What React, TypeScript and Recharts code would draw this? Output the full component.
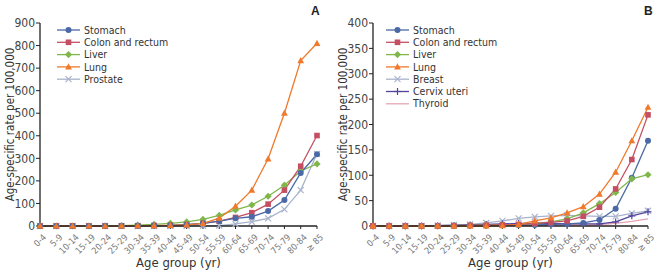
import React from 'react';
import { LineChart, Line, XAxis, YAxis } from 'recharts';

const FONT = "'DejaVu Sans', sans-serif";
const TXT = { fontFamily: FONT, fontStretch: 'condensed' } as const;

const ages = ['0-4', '5-9', '10-14', '15-19', '20-24', '25-29', '30-34', '35-39', '40-44', '45-49',
  '50-54', '55-59', '60-64', '65-69', '70-74', '75-79', '80-84', '≥ 85'];

// panel A
const stomachA = [0, 0, 0, 0, 0, 0.5, 1, 2, 3, 6, 12, 22, 34, 41, 66, 115, 235, 318];
const colonA = [0, 0, 0, 0, 0, 0.5, 1, 2, 3, 6, 12, 22, 38, 59, 97, 159, 265, 401];
const liverA = [0, 0, 0, 0, 0.5, 2, 4, 7, 12, 18, 29, 47, 71, 93, 132, 181, 244, 275];
const lungA = [0, 0, 0, 0, 0, 0.5, 1, 2, 3, 5, 12, 35, 88, 159, 298, 500, 733, 810];
const prostateA = [0, 0, 0, 0, 0, 0, 0, 0, 0, 0, 1, 2, 9, 19, 34, 74, 159, 320];
const ticksA = [0, 100, 200, 300, 400, 500, 600, 700, 800, 900];

// panel B
const stomachB = [0, 0, 0, 0, 0, 0.5, 1, 1, 1.5, 2, 2, 3, 4, 6, 12, 34, 95, 168];
const colonB = [0, 0, 0, 0, 0, 0.5, 1, 1.5, 2, 3, 5, 7, 10, 19, 37, 73, 131, 219];
const liverB = [0, 0, 0, 0, 0, 0.5, 1, 1.5, 2, 3, 5, 8, 14, 26, 44, 66, 93, 101];
const lungB = [0, 0, 0, 0, 0, 0, 0, 0, 0.5, 3, 10, 16, 26, 38, 63, 106, 168, 234];
const breastB = [0, 0, 0, 0, 1, 2, 3, 6, 10, 15, 18, 20, 21, 20, 19, 19, 25, 30];
const cervixB = [0, 0, 0, 0, 0.5, 1, 2, 3, 4, 5, 5, 5, 4, 4, 4, 8, 20, 28];
const thyroidB = [0, 0, 0, 0, 0, 0.5, 0.5, 1, 1, 1, 1.5, 1.5, 2, 2, 3, 5, 9, 14];
const ticksB = [0, 50, 100, 150, 200, 250, 300, 350, 400];

type Shape = 'circle' | 'square' | 'diamond' | 'triangle' | 'x' | 'plus' | 'none';
type Series = { key: string; name: string; color: string; shape: Shape };

const seriesA: Series[] = [
  { key: 'prostate', name: 'Prostate', color: '#a9b3cc', shape: 'x' },
  { key: 'liver', name: 'Liver', color: '#7fb74b', shape: 'diamond' },
  { key: 'colon', name: 'Colon and rectum', color: '#c44f62', shape: 'square' },
  { key: 'stomach', name: 'Stomach', color: '#4a69a6', shape: 'circle' },
  { key: 'lung', name: 'Lung', color: '#f0792b', shape: 'triangle' },
];
const legendA = ['stomach', 'colon', 'liver', 'lung', 'prostate'];

const seriesB: Series[] = [
  { key: 'thyroid', name: 'Thyroid', color: '#e7a3b3', shape: 'none' },
  { key: 'breast', name: 'Breast', color: '#a9b3cc', shape: 'x' },
  { key: 'cervix', name: 'Cervix uteri', color: '#51449c', shape: 'plus' },
  { key: 'stomach', name: 'Stomach', color: '#4a69a6', shape: 'circle' },
  { key: 'liver', name: 'Liver', color: '#7fb74b', shape: 'diamond' },
  { key: 'colon', name: 'Colon and rectum', color: '#c44f62', shape: 'square' },
  { key: 'lung', name: 'Lung', color: '#f0792b', shape: 'triangle' },
];
const legendB = ['stomach', 'colon', 'liver', 'lung', 'breast', 'cervix', 'thyroid'];

const dataA = ages.map((age, i) => ({
  age, stomach: stomachA[i], colon: colonA[i], liver: liverA[i], lung: lungA[i], prostate: prostateA[i],
}));
const dataB = ages.map((age, i) => ({
  age, stomach: stomachB[i], colon: colonB[i], liver: liverB[i], lung: lungB[i],
  breast: breastB[i], cervix: cervixB[i], thyroid: thyroidB[i],
}));

function Mark({ shape, x, y, color }: { shape: Shape; x: number; y: number; color: string }) {
  switch (shape) {
    case 'circle':
      return <circle cx={x} cy={y} r={3} fill={color} />;
    case 'square':
      return <rect x={x - 2.8} y={y - 2.8} width={5.6} height={5.6} fill={color} />;
    case 'diamond':
      return <polygon points={`${x},${y - 3.6} ${x + 3.6},${y} ${x},${y + 3.6} ${x - 3.6},${y}`} fill={color} />;
    case 'triangle':
      return <polygon points={`${x},${y - 3.6} ${x + 3.4},${y + 2.6} ${x - 3.4},${y + 2.6}`} fill={color} />;
    case 'x':
      return (
        <g stroke={color} strokeWidth={1.2}>
          <line x1={x - 3} y1={y - 3} x2={x + 3} y2={y + 3} />
          <line x1={x - 3} y1={y + 3} x2={x + 3} y2={y - 3} />
        </g>
      );
    case 'plus':
      return (
        <g stroke={color} strokeWidth={1.2}>
          <line x1={x - 3.5} y1={y} x2={x + 3.5} y2={y} />
          <line x1={x} y1={y - 3.5} x2={x} y2={y + 3.5} />
        </g>
      );
    default:
      return null;
  }
}

function AgeTick({ x, y, payload }: any) {
  return (
    <g transform={`translate(${x + 4},${y + 4})`}>
      <text transform="rotate(-45)" textAnchor="end" dy={4} fontSize={9} fill="#777" style={TXT}>
        {payload.value}
      </text>
    </g>
  );
}

function LegendBox({ series, order, left }: { series: Series[]; order: string[]; left: number }) {
  const items = order.map((k) => series.find((s) => s.key === k)!);
  return (
    <svg width={160} height={items.length * 12.3 + 8} style={{ position: 'absolute', left, top: 23 }}>
      {items.map((s, i) => {
        const y = 7 + i * 12.3;
        return (
          <g key={s.key}>
            <line x1={1} x2={24} y1={y} y2={y} stroke={s.color} strokeWidth={1.3} />
            <Mark shape={s.shape} x={12.5} y={y} color={s.color} />
            <text x={28} y={y} dy="0.35em" fontSize={10.5} fill="#333" style={TXT}>{s.name}</text>
          </g>
        );
      })}
    </svg>
  );
}

function Panel({ data, series, order, ticks, max, letter, right, legendLeft }: {
  data: any[]; series: Series[]; order: string[]; ticks: number[]; max: number; letter: string;
  right: number; legendLeft: number;
}) {
  return (
    <div style={{ position: 'relative', width: 333, height: 275 }}>
      <LineChart width={333} height={275} data={data} margin={{ top: 23, right, bottom: 0, left: 0 }}>
        <XAxis
          dataKey="age"
          interval={0}
          tick={<AgeTick />}
          tickSize={3}
          height={49}
          stroke="#222"
          axisLine={{ stroke: '#222', strokeWidth: 1.3 }}
          label={{ value: 'Age group (yr)', position: 'insideBottom', offset: 8, fontSize: 13, fill: '#333', style: TXT }}
        />
        <YAxis
          domain={[0, max]}
          ticks={ticks}
          interval={0}
          width={40}
          tickSize={4}
          tickMargin={1}
          axisLine={{ stroke: '#222', strokeWidth: 1.3 }}
          tickLine={{ stroke: '#222' }}
          tick={{ fontSize: 12, fill: '#444', style: TXT }}
          label={{
            value: 'Age-specific rate per 100,000', angle: -90, position: 'insideLeft', offset: 10,
            fontSize: 11.5, fill: '#333', style: { ...TXT, textAnchor: 'middle' },
          }}
        />
        {series.map((s) => (
          <Line
            key={s.key}
            dataKey={s.key}
            name={s.name}
            stroke={s.color}
            strokeWidth={1.3}
            type="linear"
            isAnimationActive={false}
            dot={(p: any) => <Mark key={`${s.key}-${p.index}`} shape={s.shape} x={p.cx} y={p.cy} color={s.color} />}
            activeDot={false}
          />
        ))}
      </LineChart>
      <LegendBox series={series} order={order} left={legendLeft} />
      <div style={{
        position: 'absolute', top: 4, left: 311, fontFamily: "'Liberation Sans', Arial, sans-serif",
        fontWeight: 'bold', fontSize: 12, color: '#222',
      }}>{letter}</div>
    </div>
  );
}

export default function App() {
  return (
    <div style={{ position: 'absolute', left: 0, top: 0, width: 666, height: 275, background: '#fff', display: 'flex' }}>
      <Panel data={dataA} series={seriesA} order={legendA} ticks={ticksA} max={900} letter="A" right={16} legendLeft={56} />
      <Panel data={dataB} series={seriesB} order={legendB} ticks={ticksB} max={400} letter="B" right={18} legendLeft={52} />
    </div>
  );
}
